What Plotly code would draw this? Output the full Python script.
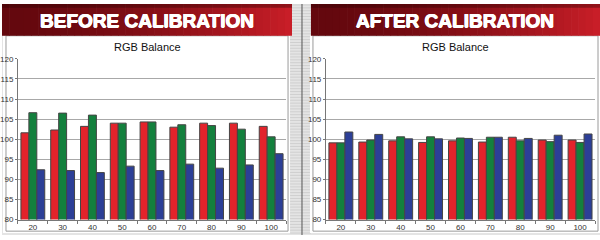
import plotly.graph_objects as go
from plotly.subplots import make_subplots

levels = ["20", "30", "40", "50", "60", "70", "80", "90", "100"]

before_red = [101.6, 102.3, 103.2, 104.0, 104.3, 103.0, 104.0, 104.0, 103.2]
before_green = [106.6, 106.5, 106.0, 104.0, 104.3, 103.6, 103.4, 102.5, 100.6]
before_blue = [92.4, 92.2, 91.7, 93.3, 92.2, 93.8, 92.8, 93.6, 96.4]

after_red = [99.1, 99.3, 99.6, 99.2, 99.6, 99.3, 100.5, 99.8, 99.8]
after_green = [99.1, 99.8, 100.6, 100.6, 100.3, 100.5, 99.6, 99.4, 99.2]
after_blue = [101.8, 101.2, 100.1, 100.1, 100.2, 100.5, 100.2, 101.0, 101.3]

panel_titles = ["BEFORE CALIBRATION", "AFTER CALIBRATION"]
chart_title = "RGB Balance"
y_ticks = [80, 85, 90, 95, 100, 105, 110, 115, 120]

W, H = 600, 240
def px(x):
    return x / W
def py(y):
    return 1 - y / H

colors = ["#e3232b", "#13803d", "#2c3f97"]
names = ["Red", "Green", "Blue"]

fig = make_subplots(rows=1, cols=2)

for col, series in ((1, (before_red, before_green, before_blue)),
                    (2, (after_red, after_green, after_blue))):
    for vals, c, n in zip(series, colors, names):
        fig.add_trace(go.Bar(x=levels, y=vals, name=n, marker=dict(color=c, line=dict(color="#454545", width=1)),
                             showlegend=False), row=1, col=col)

shapes = []
shapes.append(dict(type="rect", xref="paper", yref="paper", x0=0, x1=1, y0=0, y1=1,
                   fillcolor="#e4e4e4", line=dict(width=0), layer="below"))
for yy in range(1, H, 3):
    shapes.append(dict(type="line", xref="paper", yref="paper", x0=px(289), x1=px(310), y0=py(yy), y1=py(yy),
                       line=dict(color="#cfcfcf", width=1), layer="below"))
shapes.append(dict(type="line", xref="paper", yref="paper", x0=px(301), x1=px(301), y0=0, y1=1,
                   line=dict(color="#555555", width=1), layer="below"))

panels = [(0, 291, 4, 287), (310, 600, 312, 598)]
for (hx0, hx1, bx0, bx1) in panels:
    shapes.append(dict(type="rect", xref="paper", yref="paper", x0=px(bx0 - 3), x1=px(bx1 + 2), y0=py(238), y1=py(33),
                       fillcolor="white", line=dict(width=0), layer="below"))
    shapes.append(dict(type="rect", xref="paper", yref="paper", x0=px(bx0), x1=px(bx1), y0=py(236), y1=py(33),
                       fillcolor="rgba(0,0,0,0)", line=dict(color="#9a9a9a", width=1), layer="below"))
    n = 40
    for i in range(n):
        t = i / (n - 1)
        r = int(100 + (200 - 100) * t ** 1.6)
        g = int(8 + (30 - 8) * t ** 1.6)
        b = int(14 + (40 - 14) * t ** 1.6)
        x0 = hx0 + (hx1 - hx0) * i / n
        x1 = hx0 + (hx1 - hx0) * (i + 1) / n + 0.6
        shapes.append(dict(type="rect", xref="paper", yref="paper", x0=px(x0), x1=px(min(x1, hx1)), y0=py(33), y1=py(0),
                           fillcolor=f"rgb({r},{g},{b})", line=dict(width=0), layer="below"))
    shapes.append(dict(type="rect", xref="paper", yref="paper", x0=px(hx0), x1=px(hx1), y0=py(4), y1=py(0),
                       fillcolor="rgba(40,0,0,0.35)", line=dict(width=0), layer="below"))

annotations = []
for (hx0, hx1, bx0, bx1), t in zip(panels, panel_titles):
    annotations.append(dict(text=f"<b>{t}</b>", xref="paper", yref="paper", x=px((hx0 + hx1) / 2), y=py(17),
                            showarrow=False, xanchor="center", yanchor="middle",
                            font=dict(family="Liberation Sans, Arial", size=19, color="white",
                                      shadow="0.5px 0 0 white, -0.5px 0 0 white, 0 0.5px 0 white")))
    annotations.append(dict(text=chart_title, xref="paper", yref="paper", x=px((bx0 + bx1) / 2), y=py(45),
                            showarrow=False, xanchor="center", yanchor="middle",
                            font=dict(family="Liberation Sans, Arial", size=11, color="#111")))

tickfont = dict(family="Liberation Sans, Arial", size=8, color="#333")

fig.update_layout(
    width=W, height=H, margin=dict(l=0, r=0, t=0, b=0),
    paper_bgcolor="white", plot_bgcolor="white",
    barmode="group", bargap=0.2, bargroupgap=0,
    shapes=shapes, annotations=annotations,
)

for i, (x0, x1) in enumerate([(16, 285), (325, 595)], start=1):
    fig.update_xaxes(domain=[px(x0), px(x1)], row=1, col=i, type="category",
                     showline=True, linecolor="#777", linewidth=1,
                     ticks="outside", tickson="boundaries", ticklen=3, tickcolor="#777",
                     tickfont=tickfont, showgrid=False)
    fig.update_yaxes(domain=[py(224), py(57)], row=1, col=i, range=[80, 120],
                     tickvals=y_ticks, ticktext=[str(v) for v in y_ticks],
                     showline=True, linecolor="#777", linewidth=1,
                     ticks="outside", ticklen=2, tickcolor="#777",
                     showgrid=True, gridcolor="#a8a8a8", gridwidth=1,
                     tickfont=tickfont, zeroline=False)

fig.write_html("out.html")
